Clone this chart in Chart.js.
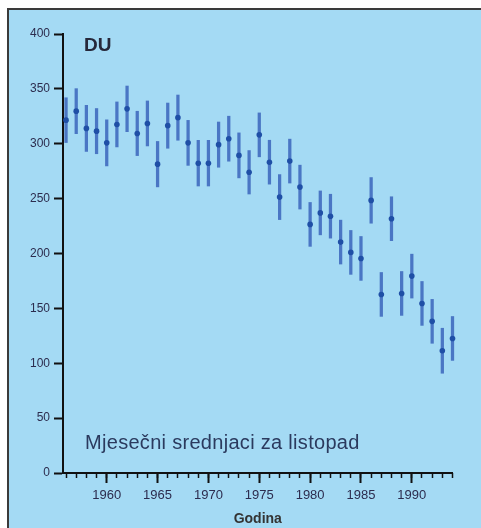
<!DOCTYPE html>
<html><head><meta charset="utf-8">
<script src="https://cdn.jsdelivr.net/npm/chart.js@4.4.1/dist/chart.umd.min.js"></script>
<style>
html,body{margin:0;padding:0;background:#fff;width:481px;height:528px;overflow:hidden;}
#panel{position:absolute;left:7px;top:8px;right:0;bottom:0;background:#a4daf4;border-top:2px solid #3a3a3a;border-left:2px solid #3a3a3a;}
#wrap{position:absolute;left:0;top:0;width:481px;height:528px;}
.lbl{position:absolute;font-family:"Liberation Sans",Arial,sans-serif;white-space:nowrap;line-height:1;}
#du{left:84px;top:35px;font-size:19px;font-weight:bold;color:#26283a;}
#sub{left:85px;top:432px;font-size:20px;color:#2b3a5e;letter-spacing:0.3px;}
</style></head><body>
<div id="panel"></div>
<div id="wrap"><canvas id="c" width="481" height="528" style="width:481px;height:528px"></canvas></div>
<div class="lbl" id="du">DU</div>
<div class="lbl" id="sub">Mjesečni srednjaci za listopad</div>
<script>
// Monthly means for October (DU), 1956-1994
const years = [1956,1957,1958,1959,1960,1961,1962,1963,1964,1965,1966,1967,1968,1969,1970,
               1971,1972,1973,1974,1975,1976,1977,1978,1979,1980,1981,1982,1983,1984,1985,
               1986,1987,1988,1989,1990,1991,1992,1993,1994];
const means = [321.5,329.7,314,311.5,300.8,317.6,331.8,309.4,318.5,281.4,316.5,323.8,300.8,282.3,282.3,
               299.2,304.6,289.4,274,308.1,283.2,251.4,284.2,260.5,226.5,237,234,210.4,201,195.5,
               248.4,162.7,231.7,163.6,179.4,154.5,138.2,111.4,122.6];
const errors = [20.4,20.5,21,20.6,21,20.5,20.8,20.2,20.5,20.7,20.6,20.6,20.5,20.8,20.8,
                20.6,20.5,20.5,19.8,20,20,20.5,20,20,20,20,20,20,20,20,
                20.8,20,20,20,20,20,20,20.5,20];
const yTicks = [0,50,100,150,200,250,300,350,400];
const xLabelYears = [1960,1965,1970,1975,1980,1985,1990];
const xMin = 1955.7, xMax = 1994;

const errData = years.map((y,i)=>({x:y, y:[means[i]-errors[i], means[i]+errors[i]]}));
const ptData = years.map((y,i)=>({x:y, y:means[i]}));

const tickFontX = {family:"'Liberation Sans', Arial, sans-serif", size:13};
const tickFontY = {family:"'Liberation Sans', Arial, sans-serif", size:12};
const tickColor = '#2c2c4e';

new Chart(document.getElementById('c'), {
  type: 'scatter',
  data: {
    datasets: [
      {type:'bar', data: errData, backgroundColor:'#4a76c4', barThickness:2.6, order:2, clip:false, xAxisID:'x', yAxisID:'y'},
      {type:'scatter', data: ptData, backgroundColor:'#1f4fa6', borderWidth:0, pointRadius:2.8, order:1, clip:false, xAxisID:'x', yAxisID:'y'}
    ]
  },
  options: {
    responsive:false, animation:false,
    layout:{padding:{top:34, right:28.5, left:0, bottom:0}},
    plugins:{legend:{display:false}, tooltip:{enabled:false}},
    scales:{
      x:{
        type:'linear', position:'bottom', min:xMin, max:xMax, offset:false,
        afterBuildTicks: s => { s.ticks = xLabelYears.map(v=>({value:v})); },
        afterFit: s => { s.height = 55; },
        ticks:{autoSkip:false, includeBounds:false, maxRotation:0, padding:5, font:tickFontX, color:tickColor, callback:v=>String(v)},
        grid:{drawOnChartArea:false, drawTicks:true, tickLength:10, tickWidth:2, tickColor:'#111', offset:false},
        border:{display:true, color:'#111', width:2},
        title:{display:true, text:'Godina', color:'#333', font:{family:"'Liberation Sans', Arial, sans-serif", size:14, weight:'bold'}, padding:{top:0,bottom:0}}
      },
      x2:{
        type:'linear', axis:'x', position:{y:0}, min:xMin, max:xMax, offset:false,
        afterBuildTicks: s => { s.ticks = years.map(v=>({value:v})); },
        ticks:{display:false},
        grid:{drawOnChartArea:false, drawTicks:true, tickLength:5, tickWidth:1.5, tickColor:'#111'},
        border:{display:false}
      },
      y:{
        type:'linear', position:'left', min:0, max:400,
        afterBuildTicks: s => { s.ticks = yTicks.map(v=>({value:v})); },
        afterFit: s => { s.width = 63; },
        ticks:{padding:4, font:tickFontY, color:tickColor},
        grid:{drawOnChartArea:false, drawTicks:true, tickLength:9, tickWidth:2, tickColor:'#111'},
        border:{display:true, color:'#111', width:2}
      }
    }
  }
});
</script>
</body></html>
